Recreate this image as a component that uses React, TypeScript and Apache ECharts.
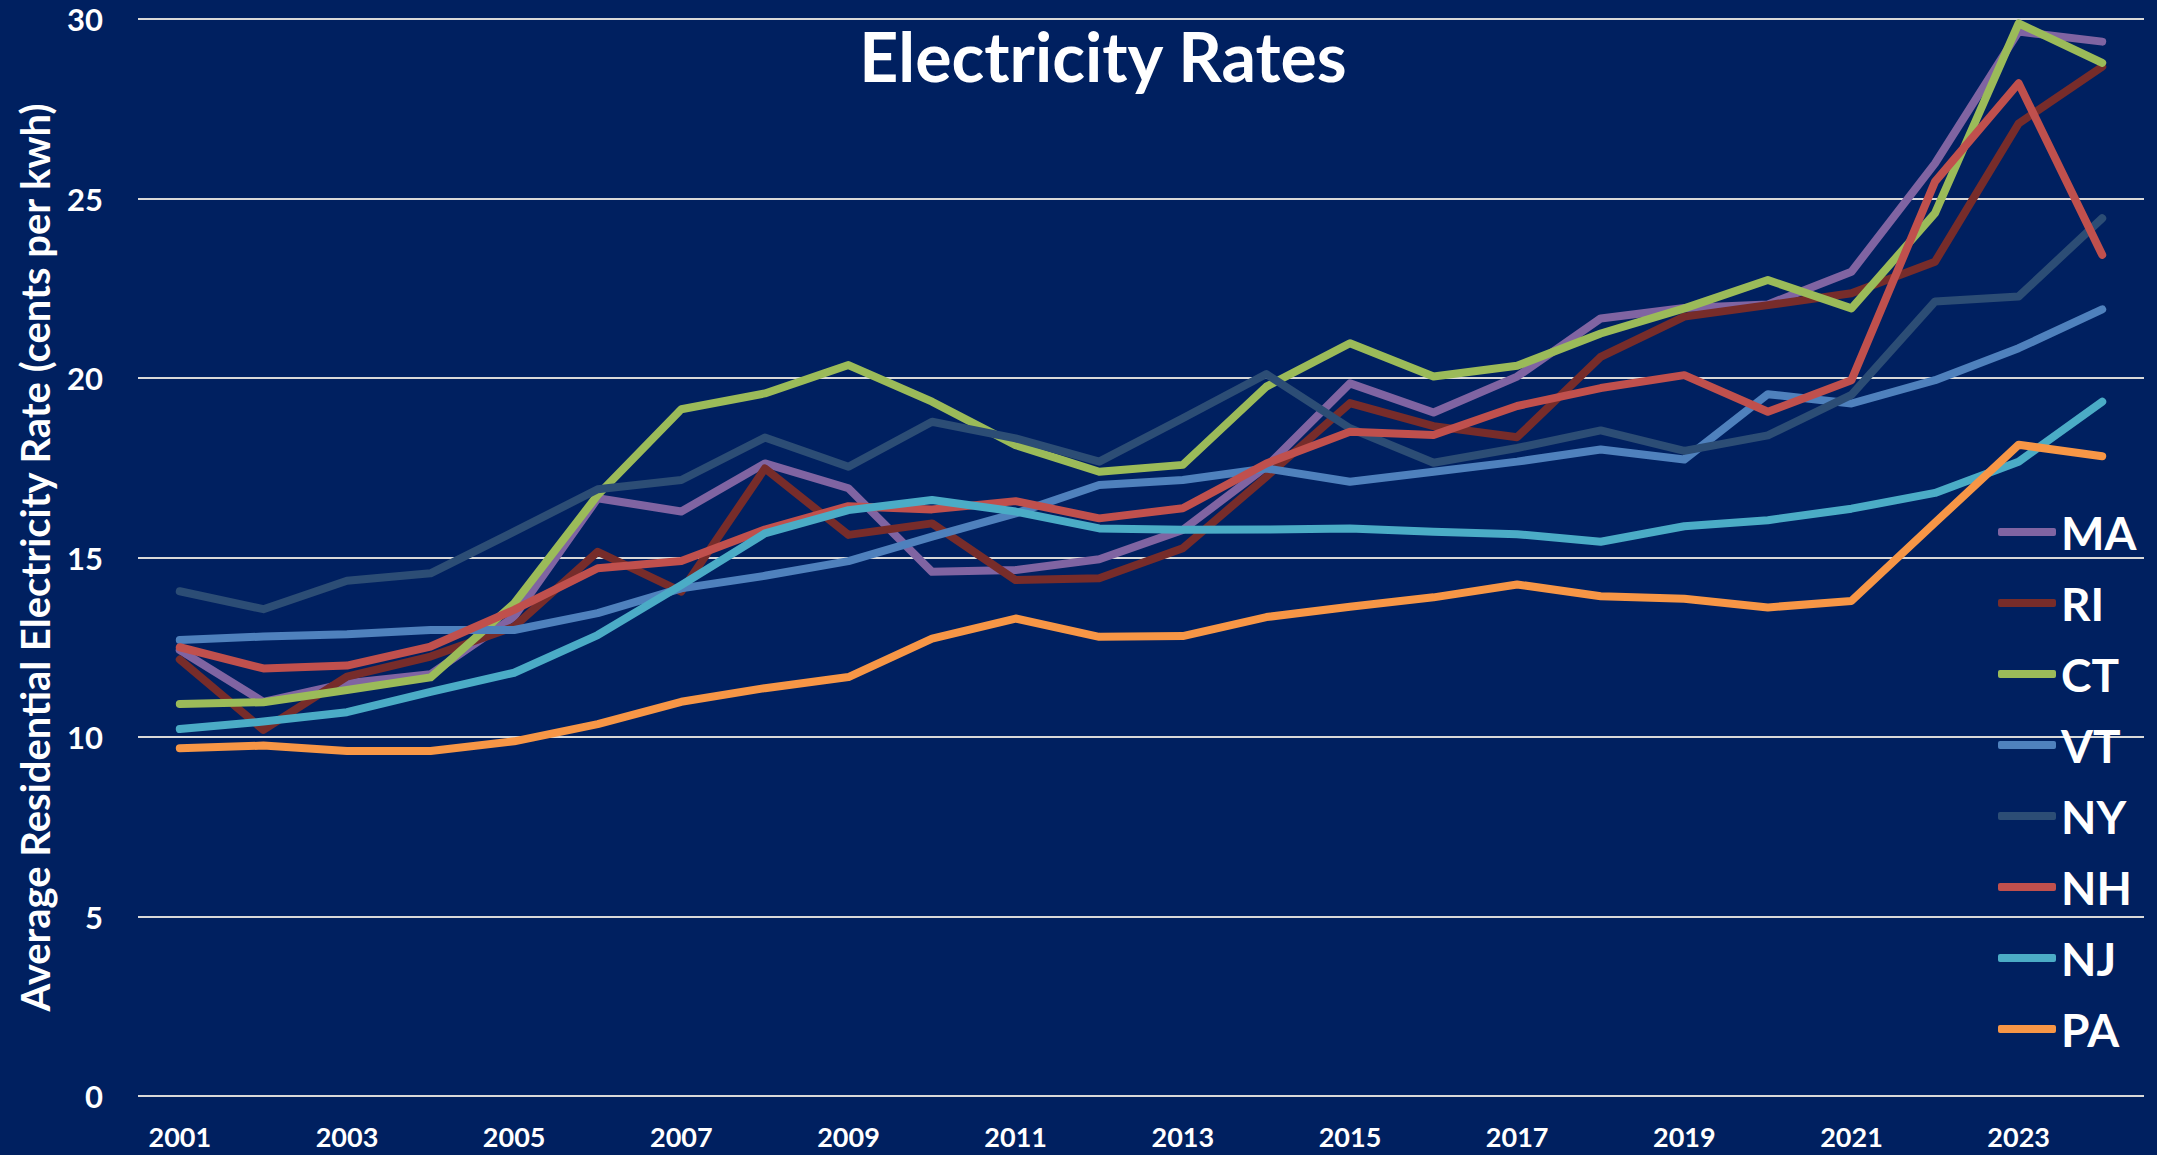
import React, { useEffect, useRef } from "react";
import * as echarts from "echarts";

const years = [
  "2001", "2002", "2003", "2004", "2005", "2006", "2007", "2008", "2009", "2010", "2011", "2012",
  "2013", "2014", "2015", "2016", "2017", "2018", "2019", "2020", "2021", "2022", "2023", "2024",
];

const MA = [12.42, 10.98, 11.5, 11.75, 13.35, 16.65, 16.28, 17.62, 16.93, 14.6, 14.65, 14.95, 15.77, 17.53, 19.85, 19.04, 20.04, 21.66, 21.95, 22.05, 22.96, 25.98, 29.65, 29.37];
const RI = [12.16, 10.2, 11.68, 12.24, 13.07, 15.16, 14.05, 17.48, 15.63, 15.95, 14.37, 14.42, 15.26, 17.25, 19.3, 18.66, 18.35, 20.59, 21.71, 22.03, 22.36, 23.24, 27.09, 28.67];
const CT = [10.92, 10.97, 11.31, 11.66, 13.72, 16.74, 19.13, 19.57, 20.36, 19.34, 18.13, 17.39, 17.58, 19.76, 20.97, 20.04, 20.34, 21.24, 21.94, 22.73, 21.94, 24.59, 29.88, 28.78];
const VT = [12.7, 12.8, 12.86, 12.98, 12.98, 13.45, 14.14, 14.49, 14.9, 15.58, 16.23, 17.02, 17.16, 17.48, 17.11, 17.39, 17.67, 18.01, 17.73, 19.55, 19.29, 19.94, 20.83, 21.91];
const NY = [14.06, 13.56, 14.35, 14.56, 15.72, 16.9, 17.16, 18.34, 17.53, 18.78, 18.32, 17.67, 18.88, 20.11, 18.6, 17.64, 18.05, 18.54, 17.97, 18.4, 19.53, 22.13, 22.27, 24.45];
const NH = [12.5, 11.91, 11.99, 12.52, 13.54, 14.7, 14.9, 15.78, 16.43, 16.34, 16.57, 16.09, 16.37, 17.62, 18.5, 18.41, 19.22, 19.72, 20.08, 19.06, 19.94, 25.47, 28.21, 23.43];
const NJ = [10.22, 10.43, 10.69, 11.26, 11.79, 12.84, 14.23, 15.67, 16.32, 16.6, 16.28, 15.81, 15.77, 15.78, 15.81, 15.72, 15.65, 15.44, 15.87, 16.04, 16.36, 16.8, 17.67, 19.34];
const PA = [9.69, 9.76, 9.61, 9.61, 9.88, 10.36, 10.98, 11.36, 11.67, 12.74, 13.3, 12.79, 12.81, 13.34, 13.63, 13.89, 14.25, 13.92, 13.85, 13.61, 13.79, 15.97, 18.14, 17.82];

const seriesNames = ["MA", "RI", "CT", "VT", "NY", "NH", "NJ", "PA"];
const seriesValues = [MA, RI, CT, VT, NY, NH, NJ, PA];
const seriesColors = ["#8064A2", "#772C2A", "#9BBB59", "#4F81BD", "#2C4D75", "#C0504D", "#4BACC6", "#F79646"];

const TITLE = "Electricity Rates";
const Y_TITLE = "Average Residential Electricity Rate (cents per kwh)";

const FONT = "Lato, 'Open Sans', sans-serif";

export default function App() {
  const ref = useRef<HTMLDivElement>(null);
  useEffect(() => {
    if (!ref.current) return;
    const chart = echarts.init(ref.current, null, { renderer: "svg" });
    chart.setOption({
      animation: false,
      backgroundColor: "#002060",
      textStyle: { fontFamily: FONT },
      title: {
        text: TITLE,
        left: 1098,
        top: 16,
        textAlign: "center",
        textStyle: { color: "#ffffff", fontSize: 68, fontWeight: "bold", fontFamily: FONT },
      },
      legend: {
        orient: "vertical",
        left: 1993,
        top: 502,
        icon: "roundRect",
        itemWidth: 58,
        itemHeight: 8,
        itemGap: 21,
        data: seriesNames,
        textStyle: { color: "#ffffff", fontSize: 46, fontWeight: "bold", lineHeight: 50, fontFamily: FONT },
      },
      grid: { left: 138, right: 13, top: 19, bottom: 59, containLabel: false },
      xAxis: {
        type: "category",
        data: years,
        boundaryGap: true,
        axisLine: { show: false },
        axisTick: { show: false },
        axisLabel: {
          interval: 1,
          color: "#ffffff",
          fontSize: 27,
          fontWeight: "bold",
          margin: 27,
          fontFamily: FONT,
        },
      },
      yAxis: {
        type: "value",
        min: 0,
        max: 30,
        interval: 5,
        name: Y_TITLE,
        nameLocation: "middle",
        nameGap: 83,
        nameTextStyle: { color: "#ffffff", fontSize: 40, fontWeight: "bold", fontFamily: FONT },
        axisLine: { show: false },
        axisTick: { show: false },
        axisLabel: { color: "#ffffff", fontSize: 31, fontWeight: "bold", margin: 35, fontFamily: FONT },
        splitLine: { lineStyle: { color: "#d9d9d9", width: 2 } },
      },
      series: seriesNames.map((name, i) => ({
        name,
        type: "line",
        data: seriesValues[i],
        color: seriesColors[i],
        showSymbol: false,
        symbol: "none",
        lineStyle: { width: 8, color: seriesColors[i], cap: "round", join: "round" },
      })),
    });
    return () => chart.dispose();
  }, []);
  return (
    <div
      ref={ref}
      style={{ position: "fixed", left: 0, top: 0, width: 2157, height: 1155 }}
    />
  );
}
